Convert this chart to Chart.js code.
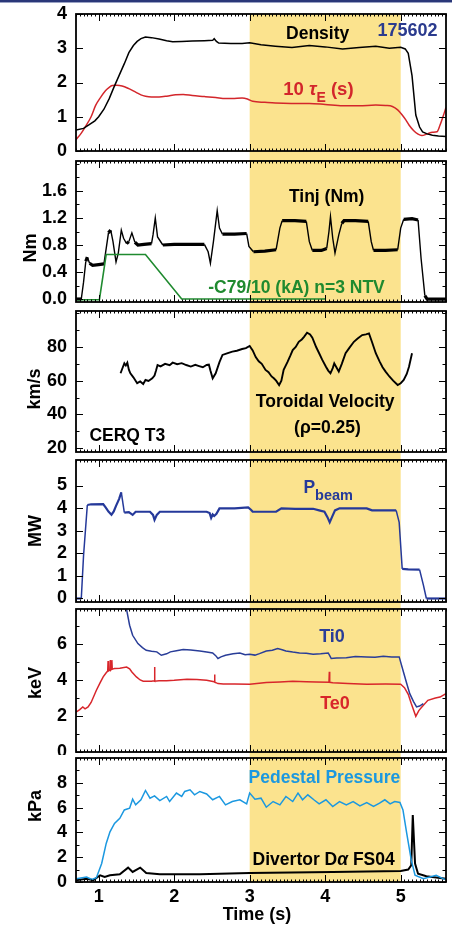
<!DOCTYPE html>
<html>
<head>
<meta charset="utf-8">
<script src="https://cdn.jsdelivr.net/npm/chart.js@4.4.0/dist/chart.umd.min.js"></script>
<style>
  body { margin: 0; background: #fff; width: 452px; height: 928px; overflow: hidden; position: relative; }
  canvas { position: absolute; left: 0; }
  #bar { position: absolute; left: 0; top: 0; width: 452px; height: 2px; background: #2a3778; }
  #bar2 { position: absolute; left: 0; top: 2px; width: 452px; height: 1px; background: #9aa2c4; }
</style>
</head>
<body>
<div id="bar"></div><div id="bar2"></div>
<canvas id="p1" width="452" height="156" style="top:0px"></canvas>
<canvas id="p2" width="452" height="150" style="top:156px"></canvas>
<canvas id="p3" width="452" height="150" style="top:306px"></canvas>
<canvas id="p4" width="452" height="149" style="top:456px"></canvas>
<canvas id="p5" width="452" height="150" style="top:605px"></canvas>
<canvas id="p6" width="452" height="173" style="top:755px"></canvas>
<script>
// shot 175602, time axis in seconds
var timeRange = [0.7, 5.6];
var highlight = [3, 5];
var xTicks = [1, 2, 3, 4, 5];

// density and 10*tauE
var denT = [0.70,0.80,0.87,0.95,1.00,1.07,1.14,1.20,1.27,1.34,1.40,1.46,1.51,1.56,1.62,1.70,1.80,1.90,1.98,2.10,2.24,2.40,2.51,2.53,2.56,2.59,2.75,2.90,3.00,3.15,3.34,3.56,3.79,4.00,4.23,4.45,4.67,4.85,5.00,5.06,5.10,5.15,5.20,5.25,5.29,5.35,5.42,5.50,5.60];
var density = [0.61,0.66,0.76,0.88,1.00,1.22,1.53,1.85,2.20,2.55,2.87,3.08,3.20,3.28,3.33,3.31,3.27,3.22,3.19,3.20,3.21,3.22,3.23,3.28,3.20,3.15,3.14,3.14,3.16,3.10,3.06,3.02,3.08,3.04,2.98,3.02,3.06,3.00,3.03,2.98,2.85,2.20,1.05,0.70,0.56,0.50,0.46,0.44,0.42];
var tauT = [0.70,0.77,0.83,0.90,0.96,1.03,1.09,1.14,1.18,1.24,1.31,1.40,1.49,1.56,1.62,1.70,1.80,1.90,2.02,2.12,2.24,2.40,2.55,2.68,2.77,2.90,2.97,3.04,3.20,3.34,3.55,3.79,4.00,4.23,4.45,4.67,4.80,4.89,4.96,5.02,5.07,5.11,5.17,5.23,5.28,5.35,5.42,5.48,5.52,5.56,5.60];
var tauE10 = [0.33,0.52,0.73,1.00,1.33,1.58,1.76,1.86,1.91,1.92,1.90,1.82,1.72,1.64,1.60,1.58,1.58,1.60,1.64,1.65,1.62,1.59,1.56,1.53,1.53,1.55,1.52,1.45,1.42,1.40,1.39,1.39,1.36,1.32,1.32,1.34,1.33,1.30,1.20,1.05,0.90,0.76,0.60,0.49,0.45,0.50,0.55,0.56,0.75,1.00,1.27];

// injected torque and coil current
var tinjT = [0.70,0.77,0.80,0.83,0.85,0.88,0.92,1.00,1.07,1.10,1.13,1.16,1.19,1.23,1.26,1.30,1.33,1.37,1.40,1.44,1.48,1.52,1.60,1.70,1.72,1.75,1.78,1.85,2.00,2.20,2.40,2.45,2.48,2.52,2.57,2.60,2.64,2.80,2.96,2.99,3.05,3.20,3.35,3.40,3.43,3.60,3.75,3.79,3.83,3.95,4.02,4.05,4.07,4.10,4.13,4.18,4.22,4.25,4.40,4.57,4.61,4.64,4.80,4.96,5.00,5.04,5.15,5.23,5.27,5.32,5.35,5.60];
var tinj = [0,0,0.25,0.56,0.62,0.53,0.50,0.51,0.52,0.75,0.98,1.02,0.85,0.55,0.68,1.02,0.90,0.82,0.85,0.98,0.84,0.80,0.81,0.82,0.95,1.20,0.92,0.80,0.81,0.81,0.81,0.70,0.53,0.85,1.31,1.05,0.96,0.96,0.97,0.78,0.70,0.71,0.73,1.05,1.16,1.16,1.15,0.85,0.72,0.72,0.75,1.00,1.22,0.90,0.68,0.95,1.12,1.16,1.16,1.15,0.85,0.72,0.72,0.73,1.05,1.18,1.19,1.17,0.60,0.05,0,0];
var c79T = [0.70,1.01,1.10,1.62,2.10,4.00];
var c79 = [-0.01,-0.01,0.66,0.66,0.0,0.0];

// toroidal velocity, CER chord T3
var velT = [1.29,1.32,1.34,1.36,1.38,1.40,1.42,1.46,1.51,1.55,1.59,1.62,1.66,1.71,1.74,1.76,1.78,1.82,1.88,1.94,1.98,2.04,2.10,2.16,2.22,2.28,2.33,2.38,2.43,2.46,2.48,2.51,2.55,2.60,2.64,2.70,2.77,2.83,2.90,2.95,3.00,3.04,3.08,3.12,3.16,3.21,3.25,3.29,3.32,3.35,3.39,3.42,3.45,3.50,3.54,3.57,3.61,3.65,3.69,3.72,3.76,3.80,3.83,3.88,3.92,3.96,4.01,4.04,4.07,4.10,4.12,4.15,4.18,4.22,4.27,4.32,4.38,4.43,4.49,4.54,4.58,4.62,4.67,4.72,4.76,4.80,4.85,4.90,4.96,5.00,5.04,5.08,5.11,5.15];
var vel = [64.4,68,70.3,69,70.7,66.5,64.4,62,58.5,59.5,58,60.4,59.8,61.4,63,66,69.3,68.5,70,69.2,70.7,69.8,70.4,69.3,68.4,69.4,68.7,68,69.3,69.5,66,61.4,64.4,71,75.3,76.2,77.3,77.8,78.8,79.3,80.6,78,74,71.5,70,66.4,65,62.5,61.4,60,57.4,60,66.4,71,75,78.2,80,83.1,84.5,86,88.5,87.5,85.5,80,76.3,72.5,68.3,66,64.4,67.5,70.3,67.8,65.4,70,76.3,79.5,83.1,85,87.1,87.5,88.1,83,76.3,71.5,68,65.4,62.5,60,57.4,58.5,60.4,64,68.3,76.3];

// neutral beam power
var pbT = [0.70,0.77,0.80,0.85,0.90,1.06,1.09,1.13,1.17,1.20,1.23,1.27,1.30,1.34,1.40,1.45,1.49,1.60,1.68,1.72,1.74,1.77,1.81,2.00,2.20,2.43,2.47,2.49,2.51,2.53,2.56,2.60,2.80,2.98,3.02,3.04,3.20,3.35,3.42,3.60,3.84,3.92,3.99,4.03,4.06,4.09,4.13,4.19,4.40,4.55,4.62,4.80,4.94,4.98,5.02,5.10,5.25,5.30,5.34,5.60];
var pbeam = [0,0,1.9,4.14,4.17,4.18,4.04,3.85,3.71,3.85,4.1,4.4,4.70,3.8,3.82,3.70,3.84,3.84,3.84,3.7,3.48,3.7,3.84,3.84,3.84,3.84,3.78,3.57,3.72,3.65,3.75,3.99,3.99,4.03,3.92,3.84,3.84,3.84,3.99,3.97,3.97,3.9,3.84,3.6,3.37,3.6,3.9,3.99,3.99,3.99,3.9,3.9,3.9,3.37,1.31,1.29,1.28,0.6,0,0];

// central ion / electron temperature
var tiT = [1.35,1.37,1.41,1.45,1.52,1.58,1.63,1.70,1.77,1.83,1.90,1.95,2.03,2.12,2.22,2.34,2.43,2.51,2.55,2.58,2.62,2.68,2.78,2.87,2.94,3.00,3.07,3.13,3.22,3.30,3.37,3.43,3.48,3.57,3.66,3.75,3.84,3.94,4.04,4.06,4.08,4.15,4.28,4.40,4.55,4.66,4.77,4.88,4.98,5.03,5.08,5.12,5.17,5.21,5.25,5.30];
var ti0 = [8.3,7.9,7.04,6.48,6.02,5.8,5.65,5.6,5.56,5.37,5.45,5.56,5.62,5.69,5.66,5.61,5.55,5.5,5.35,5.19,5.28,5.37,5.45,5.5,5.4,5.43,5.38,5.46,5.61,5.65,5.74,5.68,5.61,5.55,5.5,5.48,5.43,5.46,5.5,5.35,5.19,5.22,5.24,5.3,5.28,5.26,5.32,5.28,5.28,4.54,3.8,3.24,2.8,2.5,2.55,2.69];
var teT = [0.70,0.75,0.79,0.82,0.86,0.90,0.97,1.02,1.06,1.10,1.12,1.125,1.13,1.15,1.155,1.16,1.17,1.175,1.18,1.21,1.28,1.37,1.41,1.44,1.50,1.55,1.59,1.70,1.735,1.74,1.745,1.80,1.90,2.00,2.17,2.30,2.43,2.53,2.535,2.54,2.58,2.65,2.80,3.00,3.22,3.40,3.57,3.75,3.88,4.05,4.055,4.06,4.10,4.30,4.55,4.80,5.00,5.05,5.10,5.14,5.20,5.24,5.28,5.36,5.46,5.52,5.60];
var te0 = [2.22,2.35,2.5,2.4,2.5,2.75,3.43,3.85,4.17,4.4,4.5,5.05,4.5,4.55,5.1,4.55,4.6,5.1,4.6,4.63,4.65,4.72,4.62,4.44,4.17,4.0,3.93,3.93,3.95,4.72,3.93,3.95,3.96,3.98,4.04,4.02,3.98,3.9,4.3,3.88,3.8,3.78,3.78,3.76,3.86,3.89,3.93,3.9,3.89,3.87,4.45,3.87,3.85,3.8,3.76,3.77,3.76,3.57,3.2,2.69,1.98,2.3,2.5,2.87,3.0,3.05,3.24];

// pedestal pressure and divertor D-alpha
var pedT = [0.70,0.84,0.91,0.97,1.04,1.10,1.15,1.21,1.28,1.34,1.41,1.45,1.49,1.56,1.62,1.68,1.74,1.81,1.90,1.94,2.03,2.10,2.14,2.21,2.27,2.34,2.43,2.51,2.60,2.68,2.77,2.87,2.96,3.00,3.07,3.15,3.22,3.31,3.40,3.48,3.57,3.64,3.70,3.77,3.85,3.92,4.01,4.10,4.19,4.28,4.37,4.46,4.55,4.64,4.72,4.79,4.86,4.92,4.99,5.03,5.08,5.14,5.19,5.30,5.47,5.56,5.60];
var pedestal = [0.27,0.4,0.2,0.35,1.49,3.11,4.05,4.73,5.14,5.81,5.95,6.68,6.22,6.63,7.38,6.76,6.95,6.57,6.9,6.49,7.17,6.9,7.3,7.44,7.03,7.3,7.1,6.63,6.9,6.22,6.49,6.63,6.3,7.17,6.68,6.76,6.03,6.49,6.22,6.9,6.49,7.17,6.63,7.03,6.63,6.3,6.63,6.09,6.49,6.22,6.49,6.14,6.41,6.09,6.36,6.63,6.3,6.49,6.41,5.81,3.92,1.76,0.54,0.27,0.54,0.27,0.2];
var daT = [0.70,0.84,0.93,1.02,1.08,1.15,1.28,1.39,1.45,1.55,1.63,1.81,2.34,3.00,4.10,5.00,5.10,5.14,5.16,5.19,5.23,5.34,5.60];
var dalpha = [0.14,0.27,0.14,0.54,0.4,0.54,0.62,1.16,0.81,1.16,0.72,0.62,0.62,0.72,0.81,0.89,1.0,1.35,5.4,1.49,0.67,0.46,0.27];

var FONT = '"Liberation Sans", Arial, Helvetica, sans-serif';

function pts(t, v) {
  return t.map(function (x, i) { return {x: x, y: v[i]}; });
}

function line(t, v, color, width) {
  return {data: pts(t, v), borderColor: color, borderWidth: width, pointRadius: 0, tension: 0, fill: false};
}

// noisy traces look like a thick band on the flats and a thin line on the ramps
function noisy(ds, steep, flatW, rampW) {
  ds.segment = {
    borderWidth: function (c) { return Math.abs(c.p1.parsed.y - c.p0.parsed.y) > steep ? rampW : flatW; }
  };
  return ds;
}

function drawNote(ctx, note, x, y) {
  var size = note.size || 17.5;
  var w = 0;
  var segs = note.parts.map(function (p) {
    var s = p.sub ? note.subSize : size;
    ctx.font = (p.italic ? 'italic ' : '') + 'bold ' + s + 'px ' + FONT;
    var m = ctx.measureText(p.text).width;
    w += m;
    return {p: p, font: ctx.font, w: m};
  });
  var cx = note.align === 'left' ? x : x - w / 2;
  ctx.fillStyle = note.color;
  ctx.textAlign = 'left';
  ctx.textBaseline = 'alphabetic';
  segs.forEach(function (sg) {
    ctx.font = sg.font;
    ctx.fillText(sg.p.text, cx, y + (sg.p.sub ? note.subDy : 0));
    cx += sg.w;
  });
}

function makePlugin(cfg) {
  return {
    id: 'panel',
    beforeDatasetsDraw: function (chart) {
      var ctx = chart.ctx, a = chart.chartArea, xs = chart.scales.x;
      var x1 = xs.getPixelForValue(highlight[0]), x2 = xs.getPixelForValue(highlight[1]);
      var top = cfg.first ? a.top : 0;
      var bot = cfg.last ? a.bottom : chart.height;
      ctx.save();
      ctx.fillStyle = '#fbe38e';
      ctx.fillRect(x1, top, x2 - x1, bot - top);
      ctx.restore();
    },
    afterDatasetsDraw: function (chart) {
      var ctx = chart.ctx, a = chart.chartArea, xs = chart.scales.x, ys = chart.scales.y;
      ctx.save();
      ctx.strokeStyle = '#000';
      ctx.lineWidth = 1;
      ctx.beginPath();
      // time ticks on top and bottom edges
      for (var k = Math.ceil(timeRange[0] / 0.05); k * 0.05 <= timeRange[1] + 1e-9; k++) {
        var v = k * 0.05;
        var major = Math.abs(v - Math.round(v)) < 1e-6;
        var len = major ? 7 : 2.5;
        var px = Math.round(xs.getPixelForValue(v)) + 0.5;
        ctx.moveTo(px, a.top); ctx.lineTo(px, a.top + len);
        ctx.moveTo(px, a.bottom); ctx.lineTo(px, a.bottom - len);
      }
      // value ticks on left and right edges
      function yTick(val, len) {
        var py = Math.round(ys.getPixelForValue(val)) + 0.5;
        ctx.moveTo(a.left, py); ctx.lineTo(a.left + len, py);
        ctx.moveTo(a.right, py); ctx.lineTo(a.right - len, py);
      }
      if (cfg.yMinor) {
        for (var m = Math.ceil(cfg.yMin / cfg.yMinor); m * cfg.yMinor <= cfg.yMax; m++) {
          yTick(m * cfg.yMinor, 3.5);
        }
      }
      cfg.yTicks.forEach(function (val) { yTick(val, 7); });
      ctx.stroke();
      ctx.lineWidth = 1.8;
      ctx.strokeRect(a.left, a.top, a.right - a.left, a.bottom - a.top);

      cfg.notes.forEach(function (n) {
        drawNote(ctx, n, xs.getPixelForValue(n.t), ys.getPixelForValue(n.v));
      });
      if (cfg.yTitle) {
        ctx.save();
        ctx.translate(cfg.yTitle.x, cfg.yTitle.y - cfg.canvasTop);
        ctx.rotate(-Math.PI / 2);
        ctx.font = 'bold 18px ' + FONT;
        ctx.fillStyle = '#000';
        ctx.textAlign = 'center';
        ctx.textBaseline = 'middle';
        ctx.fillText(cfg.yTitle.text, 0, 0);
        ctx.restore();
      }
      if (cfg.last) {
        ctx.font = 'bold 18px ' + FONT;
        ctx.fillStyle = '#000';
        ctx.textAlign = 'center';
        ctx.textBaseline = 'middle';
        ctx.fillText('Time (s)', 257, 915 - cfg.canvasTop);
      }
      ctx.restore();
    }
  };
}

function panel(id, cfg) {
  var tickFont = {family: FONT, size: 18, weight: 'bold'};
  return new Chart(document.getElementById(id), {
    type: 'line',
    data: {datasets: cfg.datasets},
    options: {
      responsive: false,
      animation: false,
      devicePixelRatio: 1,
      layout: {padding: {top: cfg.padTop, bottom: cfg.padBottom, left: 0, right: 6}},
      plugins: {legend: {display: false}, tooltip: {enabled: false}},
      scales: {
        x: {
          type: 'linear', min: timeRange[0], max: timeRange[1], display: !!cfg.last,
          grid: {display: false, drawTicks: false}, border: {display: false},
          afterBuildTicks: function (s) { s.ticks = xTicks.map(function (v) { return {value: v}; }); },
          afterFit: function (s) { if (cfg.last) s.height = 46; s.paddingLeft = 0; s.paddingRight = 0; },
          ticks: {font: tickFont, color: '#000', padding: 4, maxRotation: 0, autoSkip: false}
        },
        y: {
          type: 'linear', min: cfg.yMin, max: cfg.yMax,
          grid: {display: false, drawTicks: false}, border: {display: false},
          afterBuildTicks: function (s) { s.ticks = cfg.yTicks.map(function (v) { return {value: v}; }); },
          afterFit: function (s) { s.width = 76; s.paddingTop = 0; s.paddingBottom = 0; },
          ticks: {font: tickFont, color: '#000', padding: 9,
                  callback: function (v) { return cfg.yDec ? v.toFixed(cfg.yDec) : String(v); }}
        }
      }
    },
    plugins: [makePlugin(cfg)]
  });
}

panel('p1', {
  canvasTop: 0, padTop: 14, padBottom: 5, first: true,
  yMin: 0, yMax: 4, yTicks: [0, 1, 2, 3, 4], yMinor: 0,
  datasets: [
    line(denT, density, '#000000', 1.5),
    Object.assign(line(tauT, tauE10, '#d3262b', 1.5), {cubicInterpolationMode: 'monotone'})
  ],
  notes: [
    {parts: [{text: 'Density'}], t: 3.90, v: 3.28, color: '#000'},
    {parts: [{text: '175602'}], t: 5.09, v: 3.37, color: '#2b3b8e', size: 18},
    {parts: [{text: '10 '}, {text: 'τ', italic: true}, {text: 'E', sub: true}, {text: ' (s)'}],
     t: 3.91, v: 1.635, color: '#d3262b', size: 18.5, subSize: 14, subDy: 7}
  ]
});

panel('p2', {
  canvasTop: 156, padTop: 5, padBottom: 4,
  yMin: -0.044, yMax: 2.044, yTicks: [0, 0.4, 0.8, 1.2, 1.6], yMinor: 0.2, yDec: 1,
  yTitle: {text: 'Nm', x: 31, y: 248},
  datasets: [
    line(c79T, c79, '#1f8a2f', 1.6),
    noisy(line(tinjT, tinj, '#000000', 2.6), 0.08, 3.2, 1.4)
  ],
  notes: [
    {parts: [{text: 'Tinj (Nm)'}], t: 4.02, v: 1.44, color: '#000'},
    {parts: [{text: '-C79/10 (kA) n=3 NTV'}], t: 3.62, v: 0.085, color: '#1f8a2f'}
  ]
});

panel('p3', {
  canvasTop: 306, padTop: 5, padBottom: 4,
  yMin: 17.62, yMax: 101.4, yTicks: [20, 40, 60, 80], yMinor: 10,
  yTitle: {text: 'km/s', x: 35, y: 389},
  datasets: [line(velT, vel, '#000000', 1.9)],
  notes: [
    {parts: [{text: 'Toroidal Velocity'}], t: 4.0, v: 44.5, color: '#000'},
    {parts: [{text: '(ρ=0.25)'}], t: 4.03, v: 28.7, color: '#000'},
    {parts: [{text: 'CERQ T3'}], t: 1.38, v: 24.3, color: '#000'}
  ]
});

panel('p4', {
  canvasTop: 456, padTop: 4, padBottom: 3,
  yMin: -0.155, yMax: 6.13, yTicks: [0, 1, 2, 3, 4, 5], yMinor: 0,
  yTitle: {text: 'MW', x: 36.5, y: 531},
  datasets: [noisy(line(pbT, pbeam, '#25399a', 2), 0.5, 2.2, 1.5)],
  notes: [
    {parts: [{text: 'P'}, {text: 'beam', sub: true}], t: 4.04, v: 4.67, color: '#25399a', subSize: 14.5, subDy: 7}
  ]
});

panel('p5', {
  canvasTop: 605, padTop: 4, padBottom: 3,
  yMin: 0, yMax: 7.94, yTicks: [0, 2, 4, 6], yMinor: 1,
  yTitle: {text: 'keV', x: 36.5, y: 683},
  datasets: [
    line(tiT, ti0, '#293d98', 1.5),
    line(teT, te0, '#d8262b', 1.5)
  ],
  notes: [
    {parts: [{text: 'Ti0'}], t: 4.09, v: 6.11, color: '#293d98', size: 18},
    {parts: [{text: 'Te0'}], t: 4.13, v: 2.41, color: '#d8262b', size: 18}
  ]
});

panel('p6', {
  canvasTop: 755, padTop: 3, padBottom: 0, last: true,
  yMin: 0, yMax: 10, yTicks: [0, 2, 4, 6, 8], yMinor: 1,
  yTitle: {text: 'kPa', x: 36.5, y: 806},
  datasets: [
    line(pedT, pedestal, '#1b98e0', 1.5),
    line(daT, dalpha, '#000000', 2)
  ],
  notes: [
    {parts: [{text: 'Pedestal Pressure'}], t: 3.99, v: 7.98, color: '#1b98e0'},
    {parts: [{text: 'Divertor D'}, {text: 'α', italic: true}, {text: ' FS04'}], t: 3.98, v: 1.35, color: '#000'}
  ]
});
</script>
</body>
</html>
